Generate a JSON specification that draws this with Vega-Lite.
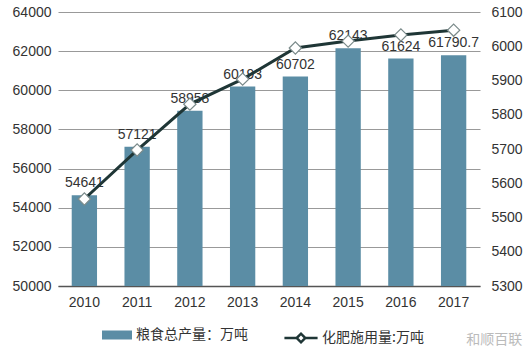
{
  "$schema": "https://vega.github.io/schema/vega-lite/v6.json",
  "autosize": {"type": "none"},
  "width": 422,
  "height": 274,
  "padding": {"left": 58, "top": 12, "right": 46, "bottom": 68},
  "background": "white",
  "config": {
    "font": "Liberation Sans, Noto Sans CJK SC",
    "view": {"stroke": null},
    "axis": {"labelFont": "Liberation Sans", "labelFontSize": 14, "labelColor": "#333333", "ticks": false, "title": null},
    "legend": {"labelFont": "Noto Sans CJK SC", "labelFontSize": 14, "labelColor": "#333333"}
  },
  "title": {"text": "和顺百联", "orient": "bottom", "anchor": "end", "frame": "bounds", "color": "#bbbbbb", "fontSize": 14, "fontWeight": "normal", "font": "Noto Sans CJK SC", "offset": -15, "dx": 0},
  "data": {
    "values": [
      {"year": "2010", "grain": 54641, "grainLabel": "54641", "fert": 5554},
      {"year": "2011", "grain": 57121, "grainLabel": "57121", "fert": 5697},
      {"year": "2012", "grain": 58958, "grainLabel": "58958", "fert": 5831},
      {"year": "2013", "grain": 60193, "grainLabel": "60193", "fert": 5904},
      {"year": "2014", "grain": 60702, "grainLabel": "60702", "fert": 5995},
      {"year": "2015", "grain": 62143, "grainLabel": "62143", "fert": 6015},
      {"year": "2016", "grain": 61624, "grainLabel": "61624", "fert": 6033},
      {"year": "2017", "grain": 61790.7, "grainLabel": "61790.7", "fert": 6047}
    ]
  },
  "encoding": {
    "x": {"field": "year", "type": "ordinal", "scale": {"paddingInner": 0.52, "paddingOuter": 0.26},
      "axis": {"labelAngle": 0, "domainColor": "#555555", "domainWidth": 1.5, "labelPadding": 9, "grid": false}}
  },
  "layer": [
    {
      "encoding": {
        "y": {"field": "grain", "type": "quantitative", "scale": {"domain": [50000, 64000], "nice": false, "zero": false},
          "axis": {"orient": "left", "values": [50000, 52000, 54000, 56000, 58000, 60000, 62000, 64000], "domain": false, "grid": true, "gridColor": "#999999", "labelPadding": 7, "format": "d"}}
      },
      "layer": [
        {"mark": {"type": "bar", "clip": true},
         "encoding": {"fill": {"datum": "粮食总产量：万吨", "type": "nominal", "scale": {"range": ["#5b8da5"]},
            "legend": {"title": null, "orient": "none", "legendX": 44, "legendY": 308, "symbolType": "M-1,-0.3H1V0.3H-1Z", "symbolSize": 900, "symbolStrokeWidth": 0, "labelOffset": 4}}}},
        {"mark": {"type": "text", "baseline": "bottom", "dy": -5, "fontSize": 14, "color": "#333333", "font": "Liberation Sans"},
         "encoding": {"text": {"field": "grainLabel"}}}
      ]
    },
    {
      "encoding": {
        "y": {"field": "fert", "type": "quantitative", "scale": {"domain": [5300, 6100], "nice": false, "zero": false},
          "axis": {"orient": "right", "values": [5300, 5400, 5500, 5600, 5700, 5800, 5900, 6000, 6100], "domain": false, "grid": false, "labelPadding": 11, "format": "d"}}
      },
      "layer": [
        {"mark": {"type": "line", "strokeWidth": 3},
         "encoding": {"stroke": {"datum": "化肥施用量:万吨", "type": "nominal", "scale": {"range": ["#1f3636"]},
            "legend": {"title": null, "orient": "none", "legendX": 225, "legendY": 308, "symbolType": "M-1,0H-0.26M0.26,0H1M-0.26,0L0,-0.26L0.26,0L0,0.26Z", "symbolSize": 1100, "symbolStrokeWidth": 2.5, "labelOffset": 3}}}},
        {"mark": {"type": "point", "shape": "diamond", "filled": true, "fill": "white", "stroke": "#7a8a8a", "strokeWidth": 1.2, "size": 150, "opacity": 1}}
      ]
    }
  ],
  "resolve": {"scale": {"y": "independent", "fill": "independent", "stroke": "independent"}}
}
